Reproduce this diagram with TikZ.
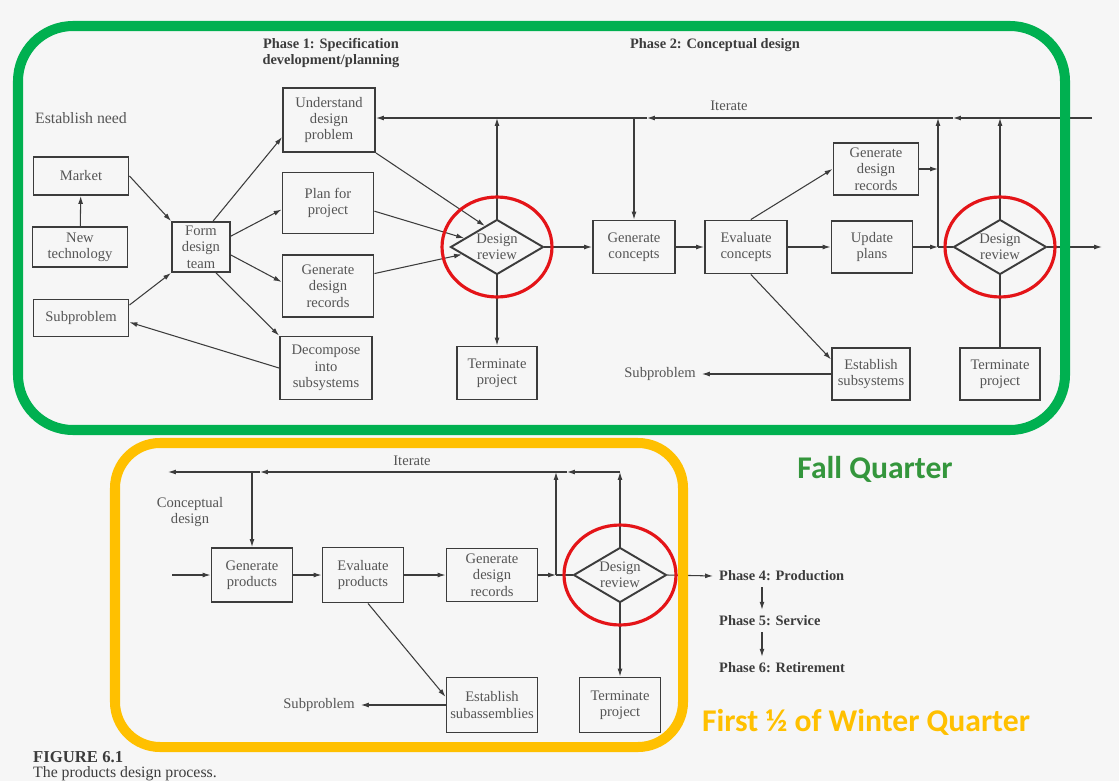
\documentclass[tikz,border=0pt]{standalone}
\usepackage{fontspec}
\setmainfont{Liberation Serif}
\newfontfamily\calfont{Carlito}
\usetikzlibrary{shapes.geometric,arrows.meta}
\definecolor{framegreen}{RGB}{0,176,80}
\definecolor{fallgreen}{RGB}{52,150,60}
\definecolor{winteryellow}{RGB}{255,192,0}
\definecolor{circred}{RGB}{228,20,24}
\definecolor{inkgray}{RGB}{60,60,60}
\definecolor{txtgray}{RGB}{85,85,85}
\definecolor{paper}{RGB}{246,246,246}
\tikzset{
  box/.style={draw=inkgray, line width=1.1pt, text=txtgray, align=center, inner sep=1pt, font=\fontsize{8.3}{9.3}\selectfont},
  review/.style={diamond, draw=inkgray, line width=1.1pt, text=txtgray, align=center, inner sep=0pt, aspect=1.7, minimum width=1.86cm, minimum height=1.1cm, font=\fontsize{8.3}{9.3}\selectfont},
  lbl/.style={text=txtgray, align=center, font=\fontsize{8.3}{9.3}\selectfont},
  phase/.style={text=inkgray, align=center, font=\bfseries\fontsize{8.2}{9.6}\selectfont},
  flow/.style={draw=inkgray, line width=0.6pt, -{Latex[length=4.5pt,width=2.8pt]}},
  link/.style={draw=inkgray, line width=0.6pt},
  ring/.style={draw=circred, line width=1.8pt},
  quarter/.style={font=\calfont\bfseries\fontsize{18}{20}\selectfont}
}
\begin{document}
\begin{tikzpicture}[x=0.02cm,y=-0.02cm]
\fill[paper] (0,0) rectangle (1119,781);
\useasboundingbox (0,0) rectangle (1119,781);

\node[lbl, font=\fontsize{9}{10}\selectfont] (need) at (81,118) {Establish need};
\node[phase] (ph1) at (331,53) {Phase 1: Specification\\development/planning};
\node[phase] (ph2) at (715,45) {Phase 2: Conceptual design};

\node[box, minimum width=1.9cm, minimum height=0.76cm] (market) at (81,176) {Market};
\node[box, minimum width=1.9cm, minimum height=0.8cm] (newtech) at (80,247) {New\\technology};
\node[box, minimum width=1.9cm, minimum height=0.74cm] (subprob) at (81,318) {Subproblem};
\node[box, minimum width=1.16cm, minimum height=1cm] (form) at (201,247) {Form\\design\\team};
\node[box, minimum width=1.84cm, minimum height=1.28cm] (understand) at (329,120) {Understand\\design\\problem};
\node[box, minimum width=1.82cm, minimum height=1.22cm] (plan) at (328,203) {Plan for\\project};
\node[box, minimum width=1.82cm, minimum height=1.24cm] (records) at (328,286) {Generate\\design\\records};
\node[box, minimum width=1.84cm, minimum height=1.26cm] (decompose) at (326,368) {Decompose\\into\\subsystems};
\node[review] (review1) at (497,247) {Design\\review};
\node[box, minimum width=1.6cm, minimum height=1.06cm] (term1) at (497,373) {Terminate\\project};

\node[box, minimum width=1.64cm, minimum height=1.06cm] (concepts) at (634,247) {Generate\\concepts};
\node[box, minimum width=1.64cm, minimum height=1.06cm] (evaluate) at (746,247) {Evaluate\\concepts};
\node[box, minimum width=1.7cm, minimum height=1.04cm] (records2) at (876,169) {Generate\\design\\records};
\node[box, minimum width=1.62cm, minimum height=1.04cm] (update) at (872,247) {Update\\plans};
\node[box, minimum width=1.56cm, minimum height=1.04cm] (subsys) at (871,374) {Establish\\subsystems};
\node[review] (review2) at (1000,247) {Design\\review};
\node[box, minimum width=1.6cm, minimum height=1.04cm] (term2) at (1000,374) {Terminate\\project};
\node[lbl] (subprob2) at (660,374) {Subproblem};
\node[lbl] (iter1) at (729,106) {Iterate};

\coordinate (itR) at (1092,118);
\coordinate (itA) at (953,118);
\coordinate (itB) at (647,118);
\coordinate (jn2) at (938,247);
\coordinate (outR) at (1102,247);

\draw[flow] (newtech) -- (market);
\draw[flow] (market.east) -- (form.north west);
\draw[flow] (subprob.15) -- (form.south west);
\draw[flow] (form.65) -- (understand.200);
\draw[flow] (form.20) -- (plan.188);
\draw[flow] (form.-15) -- (records.175);
\draw[flow] (form.-60) -- (decompose.north west);
\draw[flow] (decompose.west) -- (subprob.-5);
\draw[flow] (understand.south east) -- (review1.120);
\draw[flow] (plan.-10) -- (review1.165);
\draw[flow] (records.15) -- (review1.192);
\draw[flow] (review1.south) -- (term1.north);
\draw[flow] (review1.east) -- (concepts.west);
\draw[flow] (concepts) -- (evaluate);
\draw[flow] (evaluate) -- (update);
\draw[flow] (evaluate.80) -- (records2.west);
\draw[flow] (evaluate.-80) -- (subsys.160);
\draw[flow] (subsys.west) -- (subprob2.east);
\draw[flow] (update.east) -- (jn2);
\draw[link] (jn2) -- (review2.west);
\draw[flow] (records2.east) -- (records2.east -| jn2);
\draw[flow] (jn2) -- (jn2 |- itR);
\draw[flow] (review2.north) -- (review2.north |- itR);
\draw[link] (review2.south) -- (term2.north);
\draw[flow] (review2.east) -- (outR);
\draw[flow] (itR) -- (itA);
\draw[flow] (itA) -- (itB);
\draw[flow] (itB) -- (understand.east |- itB);
\draw[flow] (review1.north) -- (review1.north |- itB);
\draw[flow] (concepts.north |- itB) -- (concepts.north);

\node[lbl] (iter2) at (412,461) {Iterate};
\node[lbl] (concept) at (190,512) {Conceptual\\design};
\node[box, minimum width=1.62cm, minimum height=1.08cm] (products) at (252,575) {Generate\\products};
\node[box, minimum width=1.62cm, minimum height=1.1cm] (evalprod) at (363,575) {Evaluate\\products};
\node[box, minimum width=1.82cm, minimum height=1.06cm] (records3) at (492,575) {Generate\\design\\records};
\node[review] (review3) at (620,575) {Design\\review};
\node[box, minimum width=1.82cm, minimum height=1.1cm] (subasm) at (492,705) {Establish\\subassemblies};
\node[box, minimum width=1.62cm, minimum height=1.1cm] (term3) at (620,705) {Terminate\\project};
\node[lbl] (subprob3) at (319,705) {Subproblem};
\node[phase, anchor=west] (ph4) at (713,576) {Phase 4: Production};
\node[phase, anchor=west] (ph5) at (713,621) {Phase 5: Service};
\node[phase, anchor=west] (ph6) at (713,668) {Phase 6: Retirement};

\coordinate (inB) at (172,575);
\coordinate (itL) at (168,472);
\coordinate (itM) at (260,472);
\coordinate (itN) at (567,472);
\coordinate (jn3) at (556,575);

\draw[flow] (inB) -- (products);
\draw[flow] (products) -- (evalprod);
\draw[flow] (evalprod) -- (records3);
\draw[flow] (records3) -- (jn3);
\draw[link] (jn3) -- (review3.west);
\draw[flow] (jn3) -- (jn3 |- itL);
\draw[flow] (review3.north) -- (review3.north |- itL);
\draw[flow] (review3.north |- itL) -- (itN);
\draw[flow] (itN) -- (itM);
\draw[flow] (itM) -- (itL);
\draw[flow] (products.north |- itL) -- (products.north);
\draw[flow] (review3.south) -- (term3.north);
\draw[flow] (evalprod.-80) -- (subasm.170);
\draw[flow] (subasm.west) -- (subprob3.east);
\draw[flow] (review3.east) -- (ph4.west);
\draw[flow] ([xshift=0.98cm]ph4.south west) -- ([xshift=0.98cm]ph5.north west);
\draw[flow] ([xshift=0.98cm]ph5.south west) -- ([xshift=0.98cm]ph6.north west);

\draw[framegreen, line width=5.7pt, rounded corners=1.1cm] (18,26) rectangle (1065,430);
\draw[winteryellow, line width=5.7pt, rounded corners=0.9cm] (115,443) rectangle (683,747);
\draw[ring] (review1) ellipse [x radius=1.1cm, y radius=1cm];
\draw[ring] (review2) ellipse [x radius=1.1cm, y radius=1cm];
\draw[ring] (review3) ellipse [x radius=1.12cm, y radius=1cm];

\node[quarter, text=fallgreen] (fall) at (875,469) {Fall Quarter};
\node[quarter, text=winteryellow] (winter) at (866,722) {First ½ of Winter Quarter};
\node[anchor=west, text=inkgray, font=\bfseries\fontsize{9.5}{11}\selectfont] (fig) at (27,757) {FIGURE 6.1};
\node[anchor=west, text=inkgray, font=\fontsize{9}{10}\selectfont] (cap) at (27,774) {The products design process.};
\end{tikzpicture}
\end{document}
